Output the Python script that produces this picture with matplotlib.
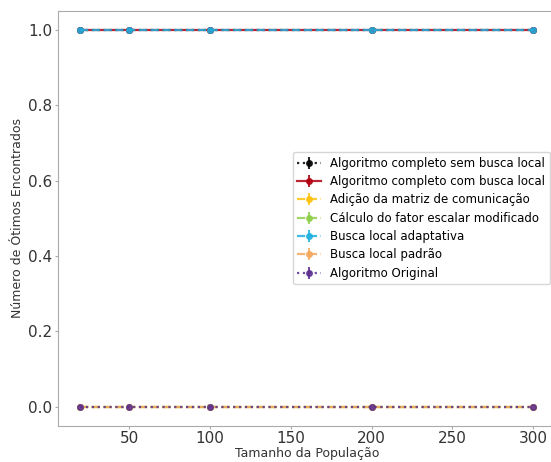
import matplotlib.pyplot as plt
import numpy as np

populacao = [20, 50, 100, 200, 300]

sem_busca_local = [1, 1, 1, 1, 1]
com_busca_local = [1, 1, 1, 1, 1]
matriz_comunicacao = [0, 0, 0, 0, 0]
fator_escalar = [0, 0, 0, 0, 0]
busca_adaptativa = [1, 1, 1, 1, 1]
busca_padrao = [0, 0, 0, 0, 0]
algoritmo_original = [0, 0, 0, 0, 0]

series = [
    (sem_busca_local, "Algoritmo completo sem busca local", "black", ":"),
    (com_busca_local, "Algoritmo completo com busca local", "#b00010", "-"),
    (matriz_comunicacao, "Adição da matriz de comunicação", "#ffc20e", "--"),
    (fator_escalar, "Cálculo do fator escalar modificado", "#8fcf4a", "--"),
    (busca_adaptativa, "Busca local adaptativa", "#1fb0e0", "--"),
    (busca_padrao, "Busca local padrão", "#f5a85c", "--"),
    (algoritmo_original, "Algoritmo Original", "#5b2f8f", ":"),
]

fig = plt.figure(figsize=(5.51, 4.62), dpi=100)
ax = fig.add_axes([0.105, 0.079, 0.904, 0.897])

for valores, rotulo, cor, estilo in series:
    ax.errorbar(populacao, valores, yerr=np.zeros(len(valores)), color=cor,
                linestyle=estilo, marker="o", markersize=4, linewidth=1.6,
                elinewidth=1.5, alpha=0.85, label=rotulo)

ax.set_xticks([50, 100, 150, 200, 250, 300])
ax.tick_params(axis="both", labelsize=11, colors="#333333", length=2, pad=2,
               color="#aaaaaa")
for s in ax.spines.values():
    s.set_color("#aaaaaa")
ax.set_xlabel("Tamanho da População", fontsize=9, color="#333333", labelpad=1)
ax.set_ylabel("Número de Ótimos Encontrados", fontsize=9, color="#333333",
              labelpad=3)
ax.legend(loc="center right", fontsize=8.5, labelspacing=0.45)

fig.savefig("out.png", dpi=100)
